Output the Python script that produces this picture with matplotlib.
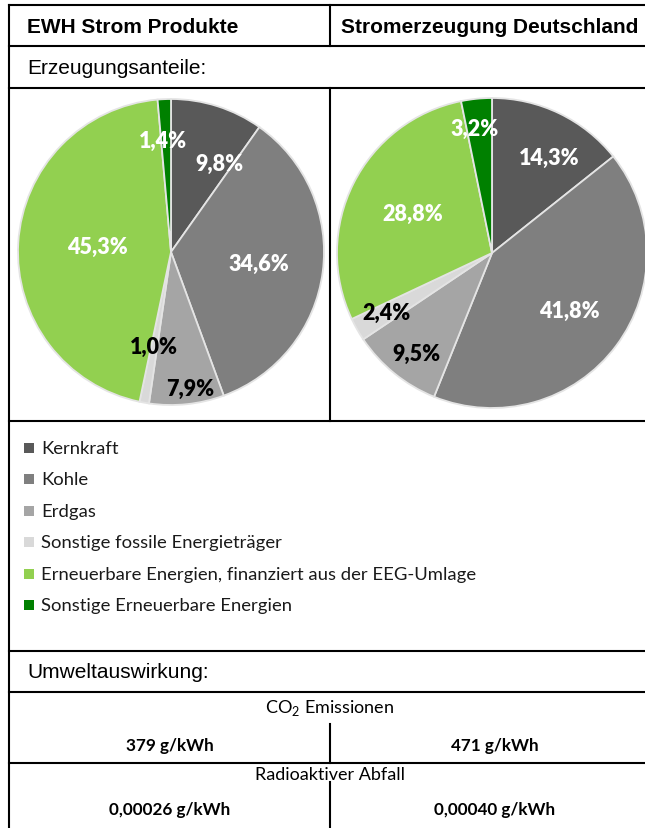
import matplotlib
matplotlib.use("Agg")
import matplotlib.pyplot as plt
import numpy as np

# ---------------- data ----------------
categories = ["Kernkraft", "Kohle", "Erdgas", "Sonstige fossile Energieträger",
              "Erneuerbare Energien, finanziert aus der EEG-Umlage",
              "Sonstige Erneuerbare Energien"]
ewh_shares = [9.8, 34.6, 7.9, 1.0, 45.3, 1.4]
de_shares = [14.3, 41.8, 9.5, 2.4, 28.8, 3.2]
col_headers = ["EWH Strom Produkte", "Stromerzeugung Deutschland"]
section_titles = ["Erzeugungsanteile:", "Umweltauswirkung:"]
co2_values = ["379 g/kWh", "471 g/kWh"]
waste_values = ["0,00026 g/kWh", "0,00040 g/kWh"]

# ---------------- style ----------------
colors = ["#595959", "#7f7f7f", "#a5a5a5", "#d9d9d9", "#92d050", "#008000"]
label_colors = ["white", "white", "black", "black", "white", "white"]
left_label_r = [0.66, 0.58, 0.90, 0.63, 0.48, 0.73]
left_label_dang = [11.0, 0.0, -2.0, 0.0, 1.0, -1.5]
right_label_r = [0.72, 0.62, 0.81, 0.78, 0.57, 0.81]
right_label_dang = [5.0, 0.0, -2.0, 0.0, 0.0, -2.4]

W, H = 645, 829
fig = plt.figure(figsize=(W / 100, H / 100), dpi=100)
fig.patch.set_facecolor("white")

bg = fig.add_axes([0, 0, 1, 1])
bg.set_xlim(0, W)
bg.set_ylim(H, 0)
bg.axis("off")

LW = 1.5
XL, XR, XM = 9, 660, 330
for y in [6, 47, 89, 422, 652, 693, 764]:
    bg.plot([XL, XR], [y, y], color="black", lw=LW, solid_capstyle="projecting")
bg.plot([XL, XL], [6, 840], color="black", lw=LW, solid_capstyle="projecting")
for (y0, y1) in [(6, 47), (89, 422), (725, 764), (783, 840)]:
    bg.plot([XM, XM], [y0, y1], color="black", lw=LW)

head_font = "Liberation Sans"
body_font = "Lato"

bg.text(27, 27, col_headers[0], fontsize=15, fontweight="bold", family=head_font,
        va="center", ha="left")
bg.text(341, 27, col_headers[1], fontsize=15, fontweight="bold", family=head_font,
        va="center", ha="left")
bg.text(27, 68, section_titles[0], fontsize=15, family=head_font, va="center", ha="left")
bg.text(27, 672, section_titles[1], fontsize=15, family=head_font, va="center", ha="left")

# legend
leg_y0, leg_dy = 449, 31.4
for i, (cat, c) in enumerate(zip(categories, colors)):
    y = leg_y0 + i * leg_dy
    bg.plot([28.5], [y], marker="s", markersize=6.5, color=c, markeredgewidth=0)
    bg.text(41, y, cat, fontsize=13.3, family=body_font, va="center", ha="left",
            color="#1a1a1a")

# bottom
plt.rcParams["mathtext.fontset"] = "custom"
plt.rcParams["mathtext.rm"] = body_font
bg.text(330, 708, r"CO$_\mathregular{2}$ Emissionen", fontsize=13, family=body_font,
        ha="center", va="center")
bg.text(330, 775, "Radioaktiver Abfall", fontsize=13, family=body_font,
        ha="center", va="center")
for xc, v1, v2 in zip([170, 495], co2_values, waste_values):
    bg.text(xc, 746, v1, fontsize=12.3, fontweight="bold", family=body_font,
            ha="center", va="center")
    bg.text(xc, 810, v2, fontsize=12.3, fontweight="bold", family=body_font,
            ha="center", va="center")


def fmt(v):
    return f"{v:.1f}".replace(".", ",") + "%"


def draw_pie(cx, cy, r, values, rfracs, dangs):
    ax = fig.add_axes([(cx - r) / W, (H - (cy + r)) / H, 2 * r / W, 2 * r / H])
    ax.pie(values, colors=colors, startangle=90, counterclock=False,
           wedgeprops=dict(edgecolor="#e4e4e4", linewidth=1.3))
    ax.set_xlim(-1, 1)
    ax.set_ylim(-1, 1)
    ax.axis("off")
    cum = np.cumsum(values)
    total = float(np.sum(values))
    for v, cs, rf, da, lc in zip(values, cum, rfracs, dangs, label_colors):
        ang = np.deg2rad(90 - 360 * (cs - v / 2) / total - da)
        ax.text(rf * np.cos(ang), rf * np.sin(ang), fmt(v), ha="center", va="center",
                fontsize=15.5, fontweight="heavy", family=body_font, color=lc)
    return ax


draw_pie(171, 253, 153, ewh_shares, left_label_r, left_label_dang)
draw_pie(492, 254, 155, de_shares, right_label_r, right_label_dang)

fig.savefig("out.png", dpi=100, facecolor="white")
